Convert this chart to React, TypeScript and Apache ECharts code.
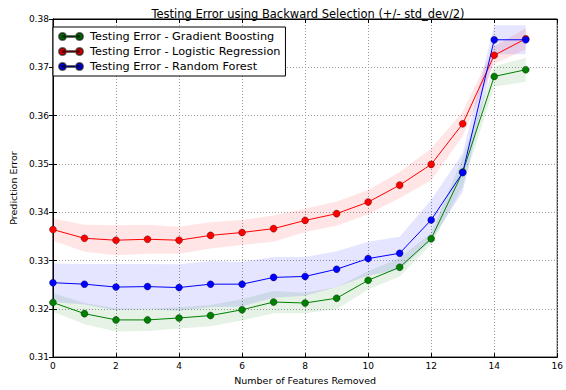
import React, { useEffect, useRef } from "react";
import * as echarts from "echarts";

const featuresRemoved = [0, 1, 2, 3, 4, 5, 6, 7, 8, 9, 10, 11, 12, 13, 14, 15];

const gbMean = [0.3213, 0.319, 0.3177, 0.3177, 0.3181, 0.3186, 0.3198, 0.3214, 0.3212, 0.3222, 0.3259, 0.3286, 0.3345, 0.3483, 0.3681, 0.3695];
const gbHalfStd = [0.0019, 0.0022, 0.0024, 0.0023, 0.0022, 0.0022, 0.0022, 0.0023, 0.0021, 0.0023, 0.0019, 0.0019, 0.0012, 0.003, 0.0021, 0.0025];

const lrMean = [0.3364, 0.3346, 0.3342, 0.3344, 0.3342, 0.3352, 0.3358, 0.3366, 0.3383, 0.3397, 0.3421, 0.3456, 0.3499, 0.3583, 0.3725, 0.3759];
const lrHalfStd = [0.0023, 0.0028, 0.0031, 0.003, 0.0028, 0.0027, 0.0026, 0.0027, 0.0024, 0.0025, 0.0025, 0.0027, 0.0033, 0.0025, 0.0018, 0.0022];

const rfMean = [0.3254, 0.3251, 0.3245, 0.3246, 0.3244, 0.3251, 0.3251, 0.3265, 0.3267, 0.3282, 0.3304, 0.3315, 0.3384, 0.3482, 0.3757, 0.3757];
const rfHalfStd = [0.004, 0.0042, 0.0048, 0.0047, 0.0048, 0.0048, 0.0046, 0.0042, 0.004, 0.0037, 0.0035, 0.0034, 0.0042, 0.004, 0.003, 0.003];

const seriesNames = [
  "Testing Error - Gradient Boosting",
  "Testing Error - Logistic Regression",
  "Testing Error - Random Forest",
];
const seriesColors = ["#008000", "#ff0000", "#0000ff"];

const FONT = "'DejaVu Sans'";

const legendIcon =
  "path://M0,3.5 A3.5,3.5 0 1,1 7,3.5 A3.5,3.5 0 1,1 0,3.5 Z M17,3.5 A3.5,3.5 0 1,1 24,3.5 A3.5,3.5 0 1,1 17,3.5 Z M3.5,3 L20.5,3 L20.5,4 L3.5,4 Z";

function bandSeries(mean: number[], half: number[], color: string) {
  return {
    type: "custom",
    silent: true,
    data: featuresRemoved.map((x, i) => [x, mean[i]]),
    renderItem: (params: any, api: any) => {
      if (params.dataIndex !== 0) return null;
      const upper = featuresRemoved.map((x, i) => api.coord([x, mean[i] + half[i]]));
      const lower = featuresRemoved
        .map((x, i) => api.coord([x, mean[i] - half[i]]))
        .reverse();
      return {
        type: "polygon",
        shape: { points: upper.concat(lower) },
        style: { fill: color, opacity: 0.1, stroke: "none" },
      };
    },
    z: 1,
  };
}

function lineSeries(name: string, mean: number[], color: string) {
  return {
    name,
    type: "line",
    data: featuresRemoved.map((x, i) => [x, mean[i]]),
    symbol: "circle",
    symbolSize: 7,
    lineStyle: { color, width: 1 },
    itemStyle: { color, borderColor: "rgba(0,0,0,0.6)", borderWidth: 0.5 },
    z: 3,
  };
}

const gridLine = { show: true, lineStyle: { color: "#999", type: [1, 2], width: 1 } };

export default function App() {
  const ref = useRef<HTMLDivElement>(null);
  useEffect(() => {
    if (!ref.current) return;
    const chart = echarts.init(ref.current, null, { renderer: "svg" });
    chart.setOption({
      animation: false,
      backgroundColor: "#fff",
      textStyle: { fontFamily: FONT },
      title: {
        text: "Testing Error using Backward Selection (+/- std_dev/2)",
        left: 303,
        textAlign: "center",
        top: 3,
        textStyle: { fontFamily: FONT, fontSize: 11.5, fontWeight: "normal", color: "#000" },
      },
      grid: {
        left: 48,
        right: 5,
        top: 19,
        bottom: 28,
        show: true,
        borderColor: "#000",
        borderWidth: 1,
        backgroundColor: "transparent",
      },
      legend: {
        left: 53,
        top: 27,
        orient: "vertical",
        itemGap: 4,
        itemWidth: 24,
        itemHeight: 7,
        padding: [4, 5, 4, 5],
        borderColor: "#000",
        borderWidth: 1,
        backgroundColor: "#fff",
        icon: legendIcon,
        data: seriesNames.map((n) => ({ name: n, icon: legendIcon })),
        textStyle: { fontFamily: FONT, fontSize: 11.3, color: "#000", padding: [0, 0, 0, 2] },
      },
      xAxis: [
        {
          type: "value",
          min: 0,
          max: 16,
          interval: 2,
          name: "Number of Features Removed",
          nameLocation: "middle",
          nameGap: 16,
          nameTextStyle: { fontFamily: FONT, fontSize: 9.5, color: "#000" },
          axisLine: { show: true, lineStyle: { color: "#000" } },
          axisTick: { show: true, inside: true, length: 4, lineStyle: { color: "#000" } },
          axisLabel: { fontFamily: FONT, fontSize: 9, color: "#000", margin: 4 },
          splitLine: gridLine,
        },
        {
          type: "value",
          position: "top",
          min: 0,
          max: 16,
          interval: 2,
          axisLine: { show: true, lineStyle: { color: "#000" } },
          axisTick: { show: true, inside: true, length: 4, lineStyle: { color: "#000" } },
          axisLabel: { show: false },
          splitLine: { show: false },
        },
      ],
      yAxis: [
        {
          type: "value",
          min: 0.31,
          max: 0.38,
          interval: 0.01,
          name: "Prediction Error",
          nameLocation: "middle",
          nameGap: 29,
          nameTextStyle: { fontFamily: FONT, fontSize: 9.5, color: "#000" },
          axisLine: { show: true, lineStyle: { color: "#000" } },
          axisTick: { show: true, inside: true, length: 4, lineStyle: { color: "#000" } },
          axisLabel: {
            fontFamily: FONT,
            fontSize: 9,
            color: "#000",
            margin: 4,
            formatter: (v: number) => v.toFixed(2),
          },
          splitLine: gridLine,
        },
        {
          type: "value",
          position: "right",
          min: 0.31,
          max: 0.38,
          interval: 0.01,
          axisLine: { show: true, lineStyle: { color: "#000" } },
          axisTick: { show: true, inside: true, length: 4, lineStyle: { color: "#000" } },
          axisLabel: { show: false },
          splitLine: { show: false },
        },
      ],
      series: [
        bandSeries(gbMean, gbHalfStd, seriesColors[0]),
        lineSeries(seriesNames[0], gbMean, seriesColors[0]),
        bandSeries(lrMean, lrHalfStd, seriesColors[1]),
        lineSeries(seriesNames[1], lrMean, seriesColors[1]),
        bandSeries(rfMean, rfHalfStd, seriesColors[2]),
        lineSeries(seriesNames[2], rfMean, seriesColors[2]),
      ],
    });
    return () => chart.dispose();
  }, []);
  return <div ref={ref} style={{ width: 566, height: 390, position: "absolute", left: 0, top: 0 }} />;
}
